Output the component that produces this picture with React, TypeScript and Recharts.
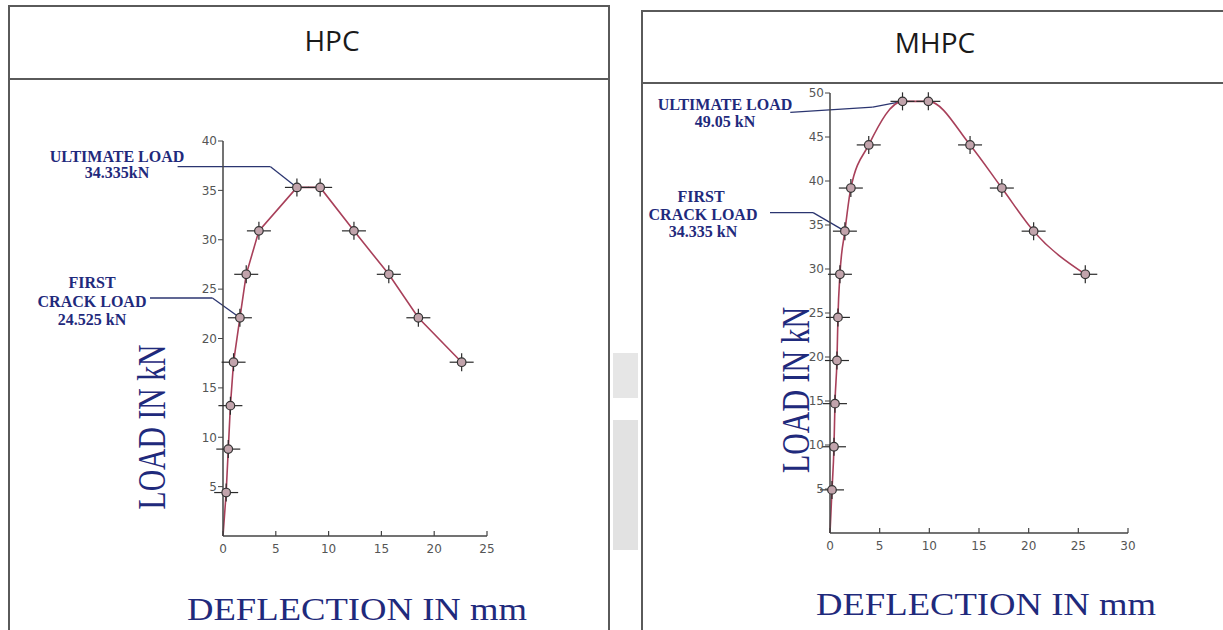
import { Line, LineChart, ReferenceLine, XAxis, YAxis } from "recharts";

// HPC beam: load vs mid-span deflection
const hpcDeflection = [0, 0.3, 0.5, 0.7, 1.0, 1.6, 2.2, 3.4, 7.0, 9.2, 12.4, 15.7, 18.5, 22.6];
const hpcLoad = [0, 4.4, 8.8, 13.2, 17.6, 22.1, 26.5, 30.9, 35.3, 35.3, 30.9, 26.5, 22.1, 17.6];

// MHPC beam
const mhpcDeflection = [0, 0.2, 0.4, 0.5, 0.7, 0.8, 1.0, 1.5, 2.1, 3.9, 7.3, 9.9, 14.1, 17.3, 20.5, 25.7];
const mhpcLoad = [0, 4.9, 9.8, 14.7, 19.6, 24.5, 29.4, 34.3, 39.2, 44.1, 49.05, 49.05, 44.1, 39.2, 34.3, 29.4];

const hpcXTicks = [0, 5, 10, 15, 20, 25];
const hpcYTicks = [5, 10, 15, 20, 25, 30, 35, 40];
const mhpcXTicks = [0, 5, 10, 15, 20, 25, 30];
const mhpcYTicks = [5, 10, 15, 20, 25, 30, 35, 40, 45, 50];

// leader lines of the callouts, in data units
const hpcUltimateLeader = [{ x: -4.3, y: 37.4 }, { x: 4.5, y: 37.4 }, { x: 7.0, y: 35.3 }];
const hpcCrackLeader = [{ x: -7.2, y: 24.1 }, { x: -1.0, y: 24.1 }, { x: 1.6, y: 22.1 }];
const mhpcUltimateLeader = [{ x: -4.0, y: 47.8 }, { x: 4.3, y: 48.4 }, { x: 7.3, y: 49.05 }];
const mhpcCrackLeader = [{ x: -7.35, y: 36.4 }, { x: -1.7, y: 36.4 }, { x: 1.5, y: 34.3 }];

const toRows = (xs: number[], ys: number[]) => xs.map((x, i) => ({ deflection: x, load: ys[i] }));

const NAVY = "#1f2a7c";
const CURVE = "#a8405a";
const TICK_MARGIN = 8;

const CrossDot = (props: any) => {
    const { cx, cy, payload, index } = props;
    if (cx == null || cy == null || payload.load === 0) return <g key={`d${index}`} />;
    return (
        <g key={`d${index}`}>
            <line x1={cx - 12} y1={cy} x2={cx + 12} y2={cy} stroke="#2a2a2a" strokeWidth={1.2} />
            <line x1={cx} y1={cy - 9} x2={cx} y2={cy + 9} stroke="#2a2a2a" strokeWidth={1.2} />
            <circle cx={cx} cy={cy} r={4.3} fill="#c2a4ac" stroke="#333" strokeWidth={1.2} />
        </g>
    );
};

// x ticks: mark points up into the plot, label below
const XTick = (props: any) => {
    const { x, y, payload } = props;
    const axisY = y - TICK_MARGIN;
    return (
        <g>
            <line x1={x} y1={axisY} x2={x} y2={axisY - 5} stroke="#444" strokeWidth={1.2} />
            <text x={x} y={y} dy="0.71em" textAnchor="middle" fontSize={12} fill="#555" fontFamily="DejaVu Sans">
                {payload.value}
            </text>
        </g>
    );
};

interface LoadChartProps {
    xs: number[];
    ys: number[];
    xTicks: number[];
    yTicks: number[];
    curve: "linear" | "natural" | "monotone";
    leaders: { x: number; y: number }[][];
    left: number;
    top: number;
    width: number;
    height: number;
    margin: { top: number; right: number; left: number; bottom: number };
    yAxisWidth: number;
}

function LoadChart({ xs, ys, xTicks, yTicks, curve, leaders, left, top, width, height, margin, yAxisWidth }: LoadChartProps) {
    const data = toRows(xs, ys);
    return (
        <div style={{ position: "absolute", left, top }}>
            <LineChart width={width} height={height} data={data} margin={margin}>
                <XAxis
                    dataKey="deflection"
                    type="number"
                    domain={[0, xTicks[xTicks.length - 1]]}
                    ticks={xTicks}
                    interval={0}
                    height={24}
                    axisLine={{ stroke: "#444", strokeWidth: 1.5 }}
                    tickLine={false}
                    tickSize={0}
                    tickMargin={TICK_MARGIN}
                    tick={XTick}
                />
                <YAxis
                    dataKey="load"
                    type="number"
                    domain={[0, yTicks[yTicks.length - 1]]}
                    ticks={yTicks}
                    interval={0}
                    width={yAxisWidth}
                    axisLine={{ stroke: "#444", strokeWidth: 1.5 }}
                    tickLine={{ stroke: "#444" }}
                    tickSize={5}
                    tickMargin={1}
                    tick={{ fontSize: 12, fill: "#555", fontFamily: "DejaVu Sans" }}
                />
                {leaders.flatMap((pts, li) =>
                    pts.slice(1).map((p, i) => (
                        <ReferenceLine
                            key={`l${li}-${i}`}
                            segment={[pts[i], p]}
                            stroke="#2b3570"
                            strokeWidth={1.3}
                            ifOverflow="visible"
                        />
                    ))
                )}
                <Line
                    dataKey="load"
                    type={curve}
                    stroke={CURVE}
                    strokeWidth={1.6}
                    dot={CrossDot}
                    activeDot={false}
                    isAnimationActive={false}
                />
            </LineChart>
        </div>
    );
}

const annoStyle = { fontFamily: "Liberation Serif", fontWeight: 700, fontSize: 16, fill: NAVY } as const;
const axisTitle = { fontFamily: "Liberation Serif", fontSize: 32, fill: NAVY } as const;
const panelTitle = { fontFamily: "Open Sans", fontSize: 28, fill: "#1a1a1a" } as const;

export default function App() {
    return (
        <div style={{ position: "absolute", left: 0, top: 0, width: 1223, height: 630, background: "#fff", overflow: "hidden" }}>
            {/* panel frames */}
            <div style={{ position: "absolute", left: 8, top: 5, width: 598, height: 700, border: "2px solid #5a5a5a" }} />
            <div style={{ position: "absolute", left: 8, top: 78, width: 600, height: 0, borderTop: "2px solid #5a5a5a" }} />
            <div style={{ position: "absolute", left: 641, top: 10, width: 640, height: 700, border: "2px solid #5a5a5a" }} />
            <div style={{ position: "absolute", left: 641, top: 82, width: 640, height: 0, borderTop: "2px solid #5a5a5a" }} />
            <div style={{ position: "absolute", left: 613, top: 353, width: 25, height: 45, background: "#e6e6e6" }} />
            <div style={{ position: "absolute", left: 613, top: 420, width: 25, height: 130, background: "#e2e2e2" }} />

            <LoadChart
                xs={hpcDeflection}
                ys={hpcLoad}
                xTicks={hpcXTicks}
                yTicks={hpcYTicks}
                curve="linear"
                leaders={[hpcUltimateLeader, hpcCrackLeader]}
                left={150}
                top={120}
                width={360}
                height={440}
                margin={{ top: 21, right: 23, left: 33, bottom: 0 }}
                yAxisWidth={40}
            />
            <LoadChart
                xs={mhpcDeflection}
                ys={mhpcLoad}
                xTicks={mhpcXTicks}
                yTicks={mhpcYTicks}
                curve="monotone"
                leaders={[mhpcUltimateLeader, mhpcCrackLeader]}
                left={770}
                top={70}
                width={400}
                height={490}
                margin={{ top: 23, right: 42, left: 30, bottom: 3 }}
                yAxisWidth={30}
            />

            <svg width={1223} height={630} style={{ position: "absolute", left: 0, top: 0, pointerEvents: "none" }}>
                <text x={332} y={51} textAnchor="middle" style={panelTitle}>HPC</text>
                <text x={935} y={53} textAnchor="middle" style={panelTitle}>MHPC</text>

                <text x={357} y={620} textAnchor="middle" textLength={340} lengthAdjust="spacingAndGlyphs" style={axisTitle}>
                    DEFLECTION IN mm
                </text>
                <text x={986} y={615} textAnchor="middle" textLength={340} lengthAdjust="spacingAndGlyphs" style={axisTitle}>
                    DEFLECTION IN mm
                </text>
                <text
                    transform="translate(165,427) rotate(-90) scale(1,1.35)"
                    textAnchor="middle"
                    textLength={165}
                    lengthAdjust="spacingAndGlyphs"
                    style={{ ...axisTitle, fontSize: 30 }}
                >
                    LOAD IN kN
                </text>
                <text
                    transform="translate(809,390) rotate(-90) scale(1,1.35)"
                    textAnchor="middle"
                    textLength={166}
                    lengthAdjust="spacingAndGlyphs"
                    style={{ ...axisTitle, fontSize: 30 }}
                >
                    LOAD IN kN
                </text>

                <text x={117} y={162} textAnchor="middle" style={annoStyle}>ULTIMATE LOAD</text>
                <text x={117} y={178} textAnchor="middle" style={annoStyle}>34.335kN</text>
                <text x={92} y={288} textAnchor="middle" style={annoStyle}>FIRST</text>
                <text x={92} y={307} textAnchor="middle" style={annoStyle}>CRACK LOAD</text>
                <text x={92} y={325} textAnchor="middle" style={annoStyle}>24.525 kN</text>

                <text x={725} y={110} textAnchor="middle" style={annoStyle}>ULTIMATE LOAD</text>
                <text x={725} y={127} textAnchor="middle" style={annoStyle}>49.05 kN</text>
                <text x={701} y={202} textAnchor="middle" style={annoStyle}>FIRST</text>
                <text x={703} y={220} textAnchor="middle" style={annoStyle}>CRACK LOAD</text>
                <text x={703} y={237} textAnchor="middle" style={annoStyle}>34.335 kN</text>
            </svg>
        </div>
    );
}
